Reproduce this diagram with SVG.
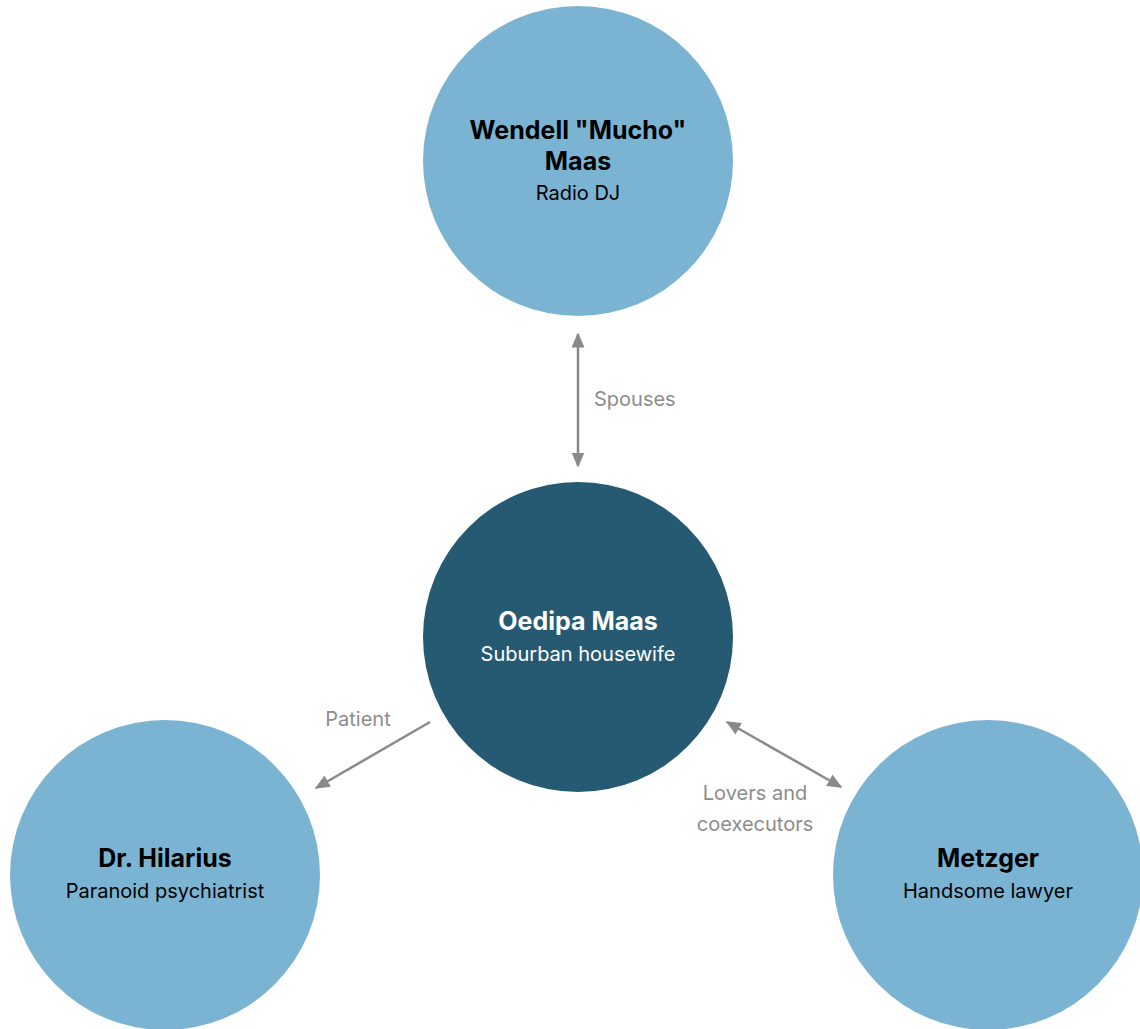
<svg xmlns="http://www.w3.org/2000/svg" width="1140" height="1029" viewBox="0 0 1140 1029">
<style>
.node{fill:#7bb4d3}
.main{fill:#265a73}
.t{font-family:Inter,"Liberation Sans",Arial,sans-serif;text-anchor:middle}
.b{font-weight:bold;font-size:25px;fill:#000}
.s{font-size:20px;fill:#000}
.w{fill:#fff}
.lbl{font-family:Inter,"Liberation Sans",Arial,sans-serif;font-size:20px;fill:#8c8c8c}
.c{stroke:#8a8a8a;stroke-width:2.5;fill:none}
</style>
<defs>
<marker id="ah" viewBox="0 0 10 10" refX="9" refY="5" markerWidth="15" markerHeight="13" markerUnits="userSpaceOnUse" orient="auto-start-reverse" preserveAspectRatio="none">
<path d="M0,0 L10,5 L0,10 z" fill="#8a8a8a"/>
</marker>
</defs>
<rect width="1140" height="1029" fill="#fff"/>
<g id="connectors">
<line class="c" x1="578" y1="334" x2="578" y2="466" marker-start="url(#ah)" marker-end="url(#ah)"/>
<line class="c" x1="430" y1="722" x2="316" y2="788" marker-end="url(#ah)"/>
<line class="c" x1="727" y1="722" x2="841" y2="787" marker-start="url(#ah)" marker-end="url(#ah)"/>
<text class="lbl" x="594" y="406">Spouses</text>
<text class="lbl" x="358" y="726" text-anchor="middle">Patient</text>
<text class="lbl" x="755" y="800" text-anchor="middle">Lovers and</text>
<text class="lbl" x="755" y="831" text-anchor="middle">coexecutors</text>
</g>
<g id="wendell">
<circle class="node" cx="578" cy="161" r="155"/>
<text class="t b" x="578" y="139">Wendell "Mucho"</text>
<text class="t b" x="578" y="170">Maas</text>
<text class="t s" x="578" y="200">Radio DJ</text>
</g>
<g id="oedipa">
<circle class="main" cx="578" cy="637" r="155"/>
<text class="t b w" x="578" y="630">Oedipa Maas</text>
<text class="t s w" x="578" y="661">Suburban housewife</text>
</g>
<g id="hilarius">
<circle class="node" cx="165" cy="875" r="155"/>
<text class="t b" x="165" y="867">Dr. Hilarius</text>
<text class="t s" x="165" y="898">Paranoid psychiatrist</text>
</g>
<g id="metzger">
<circle class="node" cx="988" cy="875" r="155"/>
<text class="t b" x="988" y="867">Metzger</text>
<text class="t s" x="988" y="898">Handsome lawyer</text>
</g>
</svg>
